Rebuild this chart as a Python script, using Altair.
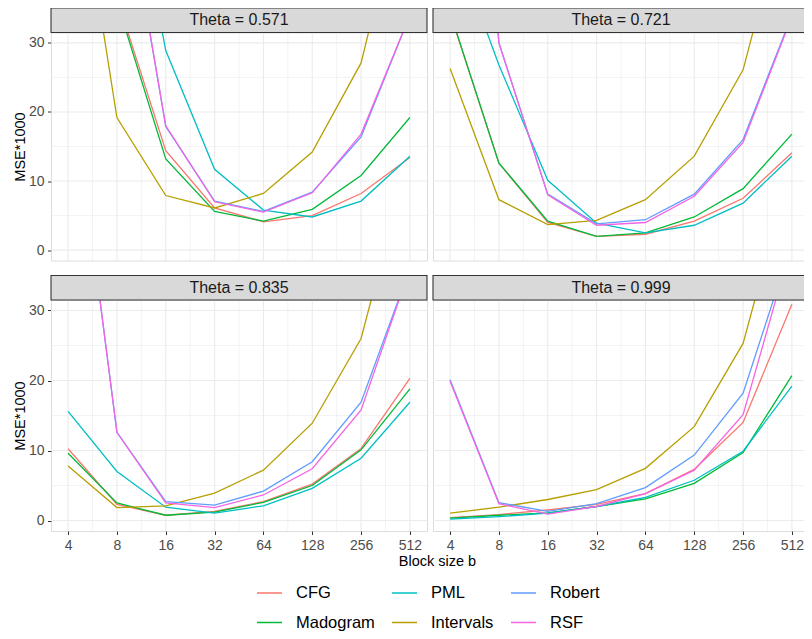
import altair as alt
import pandas as pd
import numpy as np

blocks = [4, 8, 16, 32, 64, 128, 256, 512]
methods = ["CFG", "Madogram", "PML", "Intervals", "Robert", "RSF"]
palette = {"CFG": "#F8766D", "Madogram": "#00BA38", "PML": "#00BFC4",
           "Intervals": "#B79F00", "Robert": "#619CFF", "RSF": "#F564E3"}

theta_0571 = {
    "CFG":       [90, 36.5, 14.4, 6.1, 4.1, 5.0, 8.2, 13.4],
    "Madogram":  [85, 36.0, 13.2, 5.6, 4.2, 5.9, 10.8, 19.2],
    "PML":       [150, 66.0, 28.9, 11.7, 5.8, 4.8, 7.1, 13.6],
    "Intervals": [64, 19.2, 7.9, 6.1, 8.2, 14.2, 27.1, 56],
    "Robert":    [120, 59.5, 17.9, 7.1, 5.6, 8.4, 16.4, 34],
    "RSF":       [120, 59.5, 18.0, 7.0, 5.5, 8.3, 16.8, 34],
}
theta_0721 = {
    "CFG":       [34.3, 12.6, 4.0, 2.0, 2.3, 4.2, 7.5, 14.1],
    "Madogram":  [34.4, 12.6, 4.2, 2.0, 2.5, 4.8, 8.9, 16.8],
    "PML":       [46, 26.8, 10.1, 3.9, 2.5, 3.6, 6.8, 13.6],
    "Intervals": [26.3, 7.3, 3.7, 4.3, 7.3, 13.6, 26.1, 53],
    "Robert":    [110, 30.0, 8.1, 3.8, 4.4, 8.1, 16.0, 34],
    "RSF":       [110, 30.0, 8.0, 3.6, 4.0, 7.8, 15.6, 33.8],
}
theta_0835 = {
    "CFG":       [10.25, 2.3, 0.75, 1.3, 2.7, 5.2, 10.3, 20.3],
    "Madogram":  [9.6, 2.5, 0.75, 1.2, 2.6, 5.0, 10.1, 18.8],
    "PML":       [15.6, 7.0, 1.9, 1.05, 2.1, 4.6, 8.9, 16.9],
    "Intervals": [7.8, 1.85, 2.1, 3.9, 7.2, 13.9, 26.0, 52.6],
    "Robert":    [67, 12.6, 2.7, 2.2, 4.2, 8.4, 16.9, 36],
    "RSF":       [67, 12.6, 2.5, 1.85, 3.65, 7.4, 15.8, 36],
}
theta_0999 = {
    "CFG":       [0.4, 0.85, 1.5, 2.3, 3.85, 7.3, 14.0, 30.9],
    "Madogram":  [0.33, 0.75, 1.1, 2.0, 3.1, 5.3, 9.7, 20.7],
    "PML":       [0.2, 0.55, 1.05, 2.0, 3.3, 5.75, 9.9, 19.2],
    "Intervals": [1.05, 1.9, 3.0, 4.4, 7.45, 13.4, 25.3, 51],
    "Robert":    [20.1, 2.55, 1.3, 2.4, 4.7, 9.35, 18.2, 39.6],
    "RSF":       [19.9, 2.4, 0.9, 2.0, 3.85, 7.2, 15.1, 39.6],
}

y_major = [0, 10, 20, 30]
y_minor = [5, 15, 25]
x_minor = [float(np.sqrt(a * b)) for a, b in zip(blocks[:-1], blocks[1:])]

W = 376
STRIP = 24.5
FONT = "Liberation Sans"

xs = alt.Scale(type="log", base=2, domain=[2 ** 1.65, 2 ** 9.35], nice=False)
ys = alt.Scale(domain=[-1.5, 31.5], nice=False, zero=False)
cs = alt.Scale(domain=methods, range=[palette[m] for m in methods])


def panel(theta, values, H, left, bottom, legend):
    rows = []
    for m in methods:
        for b, v in zip(blocks, values[m]):
            rows.append({"b": b, "mse": v, "method": m})
    df = pd.DataFrame(rows)

    if bottom:
        xaxis = alt.Axis(values=blocks, grid=False, domain=False, ticks=True,
                         tickColor="#333333", tickSize=3.5, tickWidth=1,
                         labelColor="#4D4D4D", labelFontSize=14, labelPadding=3.5,
                         labelFont=FONT, format="d", labelFlush=False,
                         labelOverlap=False,
                         title="Block size b" if left else "",
                         titleFont=FONT, titleFontSize=14.5,
                         titleFontWeight="normal", titleColor="#000000",
                         titleX=386, titleY=34.5, titleBaseline="alphabetic",
                         titleAlign="center", titleAnchor="middle")
    else:
        xaxis = None
    if left:
        yaxis = alt.Axis(values=y_major, grid=False, domain=False, ticks=True,
                         tickColor="#333333", tickSize=3.5, tickWidth=1,
                         labelColor="#4D4D4D", labelFontSize=14, labelPadding=3.5,
                         labelFont=FONT, title="MSE*1000", titleFont=FONT,
                         titleFontSize=14.5, titleFontWeight="normal",
                         titleColor="#000000", titlePadding=1)
    else:
        yaxis = None

    leg = None
    if legend:
        leg = alt.Legend(orient="none", legendX=205, legendY=547, columns=3,
                         symbolType="stroke", symbolSize=625,
                         symbolStrokeWidth=1.5, labelFontSize=16.5,
                         labelFont=FONT, labelColor="#000000", labelOffset=13,
                         columnPadding=14, rowPadding=7.5, padding=0,
                         title=None)

    gx_major = alt.Chart(pd.DataFrame({"g": blocks})).mark_rule(
        color="#EBEBEB", strokeWidth=1.1).encode(x=alt.X("g:Q", scale=xs, axis=xaxis))
    gx_minor = alt.Chart(pd.DataFrame({"g": x_minor})).mark_rule(
        color="#EBEBEB", strokeWidth=0.6).encode(x=alt.X("g:Q", scale=xs, axis=xaxis))
    gy_major = alt.Chart(pd.DataFrame({"g": y_major})).mark_rule(
        color="#EBEBEB", strokeWidth=1.1).encode(y=alt.Y("g:Q", scale=ys, axis=yaxis))
    gy_minor = alt.Chart(pd.DataFrame({"g": y_minor})).mark_rule(
        color="#EBEBEB", strokeWidth=0.6).encode(y=alt.Y("g:Q", scale=ys, axis=yaxis))

    lines = alt.Chart(df).mark_line(clip=True, strokeWidth=1.3).encode(
        x=alt.X("b:Q", scale=xs, axis=xaxis),
        y=alt.Y("mse:Q", scale=ys, axis=yaxis),
        color=alt.Color("method:N", scale=cs, legend=leg),
    )

    strip_df = pd.DataFrame({"label": [f"Theta = {theta}"]})
    strip_bg = alt.Chart(strip_df).mark_rect(
        fill="#D9D9D9", stroke="#333333", strokeWidth=1.1, clip=False).encode(
        x=alt.value(0), x2=alt.value(W), y=alt.value(-STRIP), y2=alt.value(0))
    strip_txt = alt.Chart(strip_df).mark_text(
        font=FONT, fontSize=16, color="#1A1A1A", baseline="middle",
        align="center", clip=False).encode(
        x=alt.value(W / 2), y=alt.value(-STRIP / 2), text="label:N")

    return alt.layer(gx_minor, gy_minor, gx_major, gy_major, lines,
                     strip_bg, strip_txt).properties(width=W, height=H)


p1 = panel("0.571", theta_0571, 228, True, False, True)
p2 = panel("0.721", theta_0721, 228, False, False, False)
p3 = panel("0.835", theta_0835, 231, True, True, False)
p4 = panel("0.999", theta_0999, 231, False, True, False)

PAD_L, PAD_T = 43, 24.5
chart = alt.concat(p1, p2, p3, p4, columns=2,
                   spacing={"row": 39.5, "column": 6}, bounds="flush").properties(
    autosize=alt.AutoSizeParams(type="none"),
    padding={"left": PAD_L, "top": PAD_T,
             "right": 796 - PAD_L, "bottom": 623 - PAD_T}
).configure_view(stroke="#333333", strokeWidth=1.1).configure(
    background="white")

chart.save("out.html", embed_options={"renderer": "svg", "actions": False})
